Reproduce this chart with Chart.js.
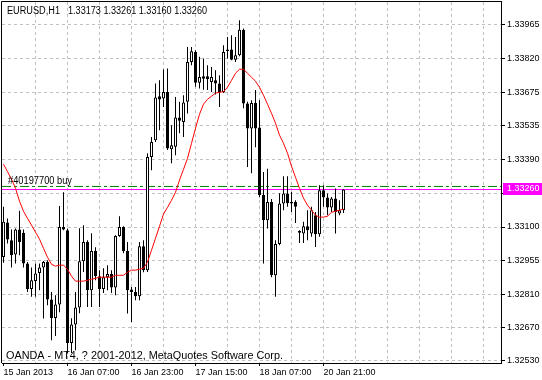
<!DOCTYPE html>
<html><head><meta charset="utf-8">
<script src="https://cdn.jsdelivr.net/npm/chart.js@4.4.1/dist/chart.umd.min.js"></script>
<style>html,body{margin:0;padding:0;background:#fff;}canvas{display:block;}</style>
</head><body>
<canvas id="c" width="542" height="380"></canvas>
<script>
// ---------- DATA ----------
const categories = [
 '15 Jan 15:00','15 Jan 16:00','15 Jan 17:00','15 Jan 18:00','15 Jan 19:00','15 Jan 20:00','15 Jan 21:00','15 Jan 22:00','15 Jan 23:00',
 '16 Jan 00:00','16 Jan 01:00','16 Jan 02:00','16 Jan 03:00','16 Jan 04:00','16 Jan 05:00','16 Jan 06:00','16 Jan 07:00','16 Jan 08:00','16 Jan 09:00','16 Jan 10:00','16 Jan 11:00','16 Jan 12:00','16 Jan 13:00','16 Jan 14:00','16 Jan 15:00','16 Jan 16:00','16 Jan 17:00','16 Jan 18:00','16 Jan 19:00','16 Jan 20:00','16 Jan 21:00','16 Jan 22:00','16 Jan 23:00',
 '17 Jan 00:00','17 Jan 01:00','17 Jan 02:00','17 Jan 03:00','17 Jan 04:00','17 Jan 05:00','17 Jan 06:00','17 Jan 07:00','17 Jan 08:00','17 Jan 09:00','17 Jan 10:00','17 Jan 11:00','17 Jan 12:00','17 Jan 13:00','17 Jan 14:00','17 Jan 15:00','17 Jan 16:00','17 Jan 17:00','17 Jan 18:00','17 Jan 19:00','17 Jan 20:00','17 Jan 21:00','17 Jan 22:00','17 Jan 23:00',
 '18 Jan 00:00','18 Jan 01:00','18 Jan 02:00','18 Jan 03:00','18 Jan 04:00','18 Jan 05:00','18 Jan 06:00','18 Jan 07:00','18 Jan 08:00','18 Jan 09:00','18 Jan 10:00','18 Jan 11:00','18 Jan 12:00','18 Jan 13:00','18 Jan 14:00','18 Jan 15:00','18 Jan 16:00',
 '20 Jan 15:00','20 Jan 16:00','20 Jan 17:00','20 Jan 18:00','20 Jan 19:00','20 Jan 20:00','20 Jan 21:00','20 Jan 22:00','20 Jan 23:00',
 '21 Jan 00:00','21 Jan 01:00','21 Jan 02:00'
];
const openP = [
 1.32972,1.33119,1.33044,1.32983,1.33089,1.33075,1.32944,1.32835,1.32870,1.32904,
 1.32927,1.32951,1.32791,1.32712,1.32769,1.33100,1.33086,1.32605,1.32684,1.32757,
 1.32954,1.33036,1.32830,1.32998,1.32890,1.32835,1.32886,1.32899,1.32842,1.33062,
 1.33100,1.32998,1.32833,1.32823,1.32805,1.33018,1.32916,1.33399,1.33470,1.33658,
 1.33648,1.33676,1.33432,1.33442,1.33567,1.33548,1.33634,1.33804,1.33847,1.33715,
 1.33743,1.33743,1.33719,1.33726,1.33712,1.33676,1.33857,1.33857,1.33814,1.33833,
 1.33942,1.33627,1.33520,1.33629,1.33524,1.33236,1.33129,1.33207,1.32894,1.33027,
 1.33200,1.33243,1.33207,1.33207,1.33083,1.33072,1.33103,1.33072,1.33150,1.33069,
 1.33257,1.33226,1.33183,1.33222,1.33158,1.33173
];
const highP = [
 1.33186,1.33136,1.33089,1.33094,1.33169,1.33089,1.32951,1.32927,1.32944,1.32944,
 1.32955,1.32958,1.32823,1.32809,1.33190,1.33248,1.33094,1.32711,1.32823,1.33095,
 1.33108,1.33044,1.33073,1.33014,1.32916,1.32924,1.32937,1.32916,1.33065,1.33146,
 1.33103,1.33036,1.32844,1.32844,1.33036,1.33044,1.33415,1.33484,1.33712,1.33726,
 1.33772,1.33776,1.33534,1.33655,1.33634,1.33662,1.33868,1.33868,1.33854,1.33826,
 1.33819,1.33790,1.33783,1.33769,1.33747,1.33875,1.33911,1.33918,1.33911,1.33982,
 1.33947,1.33634,1.33641,1.33684,1.33641,1.33335,1.33349,1.33219,1.33044,1.33244,
 1.33317,1.33317,1.33250,1.33214,1.33086,1.33122,1.33172,1.33186,1.33164,1.33278,
 1.33278,1.33243,1.33228,1.33264,1.33214,1.33261
];
const lowP = [
 1.32947,1.33030,1.32927,1.32944,1.32980,1.32927,1.32823,1.32802,1.32802,1.32830,
 1.32710,1.32766,1.32617,1.32635,1.32736,1.33086,1.32560,1.32562,1.32574,1.32732,
 1.32908,1.32759,1.32759,1.32873,1.32759,1.32818,1.32830,1.32818,1.32809,1.33058,
 1.32988,1.32731,1.32695,1.32788,1.32788,1.32907,1.32908,1.33342,1.33463,1.33513,
 1.33612,1.33428,1.33372,1.33406,1.33500,1.33484,1.33584,1.33790,1.33698,1.33691,
 1.33686,1.33684,1.33676,1.33665,1.33612,1.33672,1.33819,1.33811,1.33804,1.33829,
 1.33607,1.33356,1.33329,1.33440,1.33227,1.32944,1.33094,1.32886,1.32802,1.33022,
 1.33172,1.33186,1.33164,1.33117,1.33032,1.33032,1.33044,1.33058,1.33015,1.33058,
 1.33186,1.33150,1.33164,1.33072,1.33150,1.33160
];
const closeP = [
 1.33122,1.33047,1.32980,1.33089,1.33036,1.32944,1.32835,1.32873,1.32902,1.32927,
 1.32951,1.32791,1.32712,1.32769,1.33100,1.33089,1.32605,1.32684,1.32757,1.32954,
 1.33036,1.32830,1.32998,1.32890,1.32835,1.32886,1.32899,1.32842,1.33062,1.33100,
 1.32998,1.32830,1.32823,1.32805,1.33018,1.32916,1.33399,1.33463,1.33652,1.33644,
 1.33676,1.33435,1.33449,1.33567,1.33553,1.33631,1.33804,1.33850,1.33715,1.33740,
 1.33733,1.33730,1.33740,1.33712,1.33676,1.33847,1.33851,1.33814,1.33833,1.33942,
 1.33627,1.33520,1.33629,1.33520,1.33236,1.33129,1.33207,1.32894,1.33027,1.33200,
 1.33243,1.33201,1.33200,1.33186,1.33076,1.33103,1.33086,1.33172,1.33069,1.33257,
 1.33226,1.33183,1.33222,1.33164,1.33172,1.33260
];
const maValues = [
 1.33368,1.33336,1.33304,1.33265,1.33210,1.33167,1.33137,1.33108,1.33078,1.33048,
 1.33009,1.32971,1.32941,1.32933,1.32937,1.32937,1.32920,1.32890,1.32869,1.32869,
 1.32869,1.32873,1.32877,1.32881,1.32886,1.32886,1.32886,1.32886,1.32894,1.32894,
 1.32894,1.32907,1.32916,1.32916,1.32920,1.32924,1.32950,1.33001,1.33052,1.33103,
 1.33155,1.33184,1.33214,1.33248,1.33300,1.33346,1.33393,1.33457,1.33521,1.33581,
 1.33624,1.33645,1.33658,1.33671,1.33675,1.33677,1.33696,1.33726,1.33756,1.33773,
 1.33773,1.33756,1.33739,1.33722,1.33696,1.33662,1.33624,1.33585,1.33543,1.33492,
 1.33457,1.33415,1.33359,1.33312,1.33265,1.33223,1.33193,1.33172,1.33150,1.33142,
 1.33142,1.33146,1.33163,1.33167,1.33172,1.33176
];
const xGridIndex = [0,8,16,24,32,40,48,56,64,72,80,88,96,104,112,120];
const xTickIndex = [0,16,32,48,64,80];
const xTickText = ['15 Jan 2013','16 Jan 07:00','16 Jan 23:00','17 Jan 15:00','18 Jan 07:00','20 Jan 21:00'];
const yTickValues = [1.33965,1.33820,1.33675,1.33535,1.33390,1.33245,1.33100,1.32955,1.32810,1.32670,1.32530];
const yTickText = ['1.33965','1.33820','1.33675','1.33535','1.33390','1.33245','1.33100','1.32955','1.32810','1.32670','1.32530'];
const symbolText = 'EURUSD,H1';
const bidPrice = 1.33260;
const orderPrice = 1.33273;
const orderText = '#40197700 buy';
const copyrightText = 'OANDA - MT4, ? 2001-2012, MetaQuotes Software Corp.';

// ---------- BUILD ----------
const X_MIN = -0.375, X_MAX = 124.375;
const Y_MIN = 1.3251981, Y_MAX = 1.3405991;
const wickData = categories.map((c, i) => ({x: i, y: [lowP[i], highP[i]]}));
const bodyData = categories.map((c, i) => ({x: i, y: [Math.min(openP[i], closeP[i]), Math.max(openP[i], closeP[i])]}));
const bodyFill = categories.map((c, i) => closeP[i] >= openP[i] ? '#ffffff' : '#000000');
const maData = maValues.map((v, i) => ({x: i, y: v}));
const FONT = '"Liberation Sans", Arial, sans-serif';

const overlay = {
  id: 'overlay',
  afterDraw(chart) {
    const {ctx, chartArea: a, scales: {y}} = chart;
    ctx.save();
    ctx.strokeStyle = '#000'; ctx.lineWidth = 1;
    ctx.beginPath();
    ctx.moveTo(a.left - 0.5, a.bottom);
    ctx.lineTo(a.left - 0.5, a.top - 0.5);
    ctx.lineTo(a.right + 1, a.top - 0.5);
    ctx.stroke();
    ctx.fillStyle = '#000';
    ctx.textBaseline = 'alphabetic';
    ctx.textAlign = 'left';
    const last = categories.length - 1;
    const ohlc = [openP[last], highP[last], lowP[last], closeP[last]].map(v => v.toFixed(5)).join(' ');
    ctx.font = '10px ' + FONT;
    ctx.fillText(symbolText, 7, 14, 53);
    ctx.fillText(ohlc, 68, 14, 139);
    const oy = y.getPixelForValue(orderPrice);
    ctx.fillText(orderText, 8, Math.round(oy) - 2, 64);
    ctx.font = '11px ' + FONT;
    ctx.fillText(copyrightText, 6, 359, 277);
    const py = Math.round(y.getPixelForValue(bidPrice));
    ctx.fillStyle = '#ff00ff';
    ctx.fillRect(503, py - 6, 39, 12);
    ctx.fillStyle = '#ffffff';
    ctx.font = '9px ' + FONT;
    ctx.textBaseline = 'middle';
    ctx.fillText(bidPrice.toFixed(5), 507, py);
    ctx.restore();
  }
};

new Chart(document.getElementById('c'), {
  data: {
    datasets: [
      {type: 'line', data: maData, borderColor: '#ff0000', borderWidth: 1, pointRadius: 0, tension: 0, order: 1},
      {type: 'line', data: [{x: X_MIN, y: bidPrice}, {x: X_MAX, y: bidPrice}], borderColor: '#ff00ff', borderWidth: 1, pointRadius: 0, order: 4},
      {type: 'line', data: [{x: X_MIN, y: orderPrice}, {x: X_MAX, y: orderPrice}], borderColor: '#008000', borderWidth: 1, borderDash: [9, 3, 3, 3], pointRadius: 0, order: 5},
      {type: 'bar', data: bodyData, backgroundColor: bodyFill, borderColor: '#000', borderWidth: 1, borderSkipped: false,
        barThickness: 3, grouped: false, inflateAmount: 0, minBarLength: 1, order: 2},
      {type: 'bar', data: wickData, backgroundColor: '#000', borderWidth: 0, barThickness: 1, grouped: false, inflateAmount: 0, order: 3}
    ]
  },
  options: {
    responsive: false, animation: false, devicePixelRatio: 1,
    layout: {padding: {left: 2, top: 2, right: 0, bottom: 0}},
    plugins: {legend: {display: false}, tooltip: {enabled: false}},
    scales: {
      x: {
        type: 'linear', position: 'bottom', min: X_MIN, max: X_MAX, bounds: 'data', offset: false,
        afterBuildTicks: s => { s.ticks = xGridIndex.map(v => ({value: v})); },
        afterFit: s => { s.height = 17; s.paddingLeft = 0; s.paddingRight = 0; },
        ticks: {
          autoSkip: false, maxRotation: 0, minRotation: 0, align: 'start', padding: 1,
          color: '#000', font: {family: FONT, size: 9},
          callback: v => { const k = xTickIndex.indexOf(v); return k >= 0 ? xTickText[k] : ''; }
        },
        grid: {
          offset: false,
          color: c => (c.tick && c.tick.value === 0) ? 'rgba(0,0,0,0)' : '#c0c0c0',
          lineWidth: 1, drawTicks: true, tickLength: 3,
          tickColor: c => (c.tick && xTickIndex.indexOf(c.tick.value) >= 0) ? '#000' : 'rgba(0,0,0,0)'
        },
        border: {display: true, color: '#000', width: 1, dash: [3, 3]}
      },
      y: {
        type: 'linear', position: 'right', min: Y_MIN, max: Y_MAX, bounds: 'data', offset: false,
        afterBuildTicks: s => { s.ticks = yTickValues.map(v => ({value: v})); },
        afterFit: s => { s.width = 41; s.paddingTop = 0; s.paddingBottom = 0; },
        ticks: {
          autoSkip: false, padding: 2, color: '#000', font: {family: FONT, size: 9},
          callback: (v, i) => yTickText[i]
        },
        grid: {color: '#c0c0c0', lineWidth: 1, drawTicks: true, tickLength: 4, tickColor: '#000'},
        border: {display: true, color: '#000', width: 1, dash: [3, 3]}
      }
    }
  },
  plugins: [overlay]
});
</script>
</body></html>
